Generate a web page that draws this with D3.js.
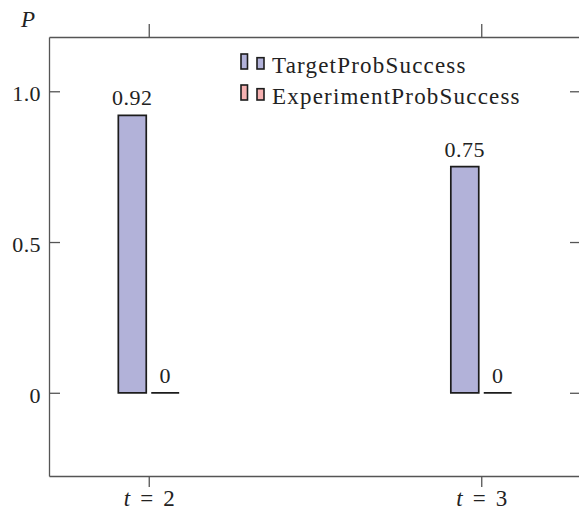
<!DOCTYPE html>
<html>
<head>
<meta charset="utf-8">
<script src="https://cdn.jsdelivr.net/npm/d3@7"></script>
<style>
  html, body { margin: 0; padding: 0; background: #fff; }
  svg { display: block; }
  svg text { font-family: "Liberation Serif", Tinos, "DejaVu Serif", serif; fill: #222; }
</style>
</head>
<body>
<svg id="chart" width="579" height="513"></svg>
<script>
// Success probabilities per time step
const categories = ["t = 2", "t = 3"];
const seriesNames = ["TargetProbSuccess", "ExperimentProbSuccess"];
const targetProbSuccess = [0.92, 0.75];
const experimentProbSuccess = [0, 0];
const seriesColors = ["#b2b2d9", "#f6b1b1"];
const yTicks = [0, 0.5, 1.0];
const yTickLabels = ["0", "0.5", "1.0"];

const series = [targetProbSuccess, experimentProbSuccess];

const frame = { left: 49, right: 581, top: 37, bottom: 476 };
const frameColor = "#555";
const serif = '"Liberation Serif", Tinos, "DejaVu Serif", serif';

const svg = d3.select("#chart");

const x = d3.scaleLinear().domain([-0.3, categories.length - 0.7]).range([frame.left, frame.right]);
const y = d3.scaleLinear().domain([-0.276, 1.18]).range([frame.bottom, frame.top]);

// frame axes
function styleAxis(g) {
  g.attr("font-family", serif).attr("font-size", 22);
  g.selectAll("path.domain").attr("stroke", frameColor).attr("stroke-width", 1.3);
  g.selectAll(".tick line").attr("stroke", frameColor).attr("stroke-width", 1.3);
}

const tickFmt = v => yTickLabels[yTicks.indexOf(v)];

svg.append("g")
  .attr("transform", `translate(${frame.left},0)`)
  .call(d3.axisLeft(y).tickValues(yTicks).tickFormat(tickFmt)
        .tickSizeInner(-11).tickSizeOuter(0).tickPadding(8))
  .call(styleAxis)
  .call(g => g.selectAll(".tick text")
      .attr("dy", "0.42em")
      .attr("letter-spacing", 0.4)
      .attr("fill", "#222"));

svg.append("g")
  .attr("transform", `translate(${frame.right},0)`)
  .call(d3.axisRight(y).tickValues(yTicks).tickFormat("")
        .tickSizeInner(-11).tickSizeOuter(0))
  .call(styleAxis);

const idx = d3.range(categories.length);

svg.append("g")
  .attr("transform", `translate(0,${frame.top})`)
  .call(d3.axisTop(x).tickValues(idx).tickFormat("")
        .tickSizeInner(13).tickSizeOuter(0))
  .call(styleAxis);

const bottomAxis = svg.append("g")
  .attr("transform", `translate(0,${frame.bottom})`)
  .call(d3.axisBottom(x).tickValues(idx).tickFormat("")
        .tickSizeInner(11).tickSizeOuter(0))
  .call(styleAxis);

// category labels with an italic variable name
bottomAxis.selectAll(".tick").each(function (d) {
  const parts = categories[d].split(" = ");
  const t = d3.select(this).append("text")
    .attr("y", 30)
    .attr("text-anchor", "middle")
    .attr("font-size", 23)
    .attr("fill", "#222");
  t.append("tspan").attr("font-style", "italic").text(parts[0]);
  t.append("tspan").attr("dx", 10).text("=");
  t.append("tspan").attr("dx", 10).text(parts[1]);
});

// y-axis label
svg.append("text")
  .attr("x", 21).attr("y", 27)
  .attr("font-size", 23)
  .attr("font-style", "italic")
  .text("P");

// bars
const barW = x(0.084) - x(0);
const offsets = [-0.0495, 0.0495];

const bars = [];
series.forEach((vals, s) => {
  vals.forEach((v, i) => bars.push({ s, i, v }));
});

svg.append("g").selectAll("path")
  .data(bars)
  .join("path")
  .attr("d", d => {
    const cx = x(d.i + offsets[d.s]);
    const x0 = cx - barW / 2, x1 = cx + barW / 2;
    const y0 = y(0), y1 = y(d.v);
    return `M${x0},${y0}H${x1}V${y1}H${x0}Z`;
  })
  .attr("fill", d => seriesColors[d.s])
  .attr("stroke", "#1c1c1c")
  .attr("stroke-width", 1.7);

// value labels
svg.append("g").selectAll("text")
  .data(bars)
  .join("text")
  .attr("x", d => x(d.i + offsets[d.s]))
  .attr("y", d => y(d.v) - 10)
  .attr("text-anchor", "middle")
  .attr("font-size", 22)
  .attr("letter-spacing", 0.5)
  .text(d => String(d.v));

// legend
const legend = svg.append("g");
seriesNames.forEach((name, s) => {
  const gy = 69 + s * 31;
  const g = legend.append("g").attr("transform", `translate(0,${gy})`);
  g.append("rect")
    .attr("x", 241).attr("y", -15).attr("width", 6.5).attr("height", 15)
    .attr("fill", seriesColors[s]).attr("stroke", "#1c1c1c").attr("stroke-width", 1.6);
  g.append("rect")
    .attr("x", 257).attr("y", -11.3).attr("width", 7).attr("height", 11.3)
    .attr("fill", seriesColors[s]).attr("stroke", "#1c1c1c").attr("stroke-width", 1.6);
  g.append("text")
    .attr("x", 272).attr("y", 3.7)
    .attr("font-size", 23)
    .attr("letter-spacing", 1.2)
    .text(name);
});
</script>
</body>
</html>
